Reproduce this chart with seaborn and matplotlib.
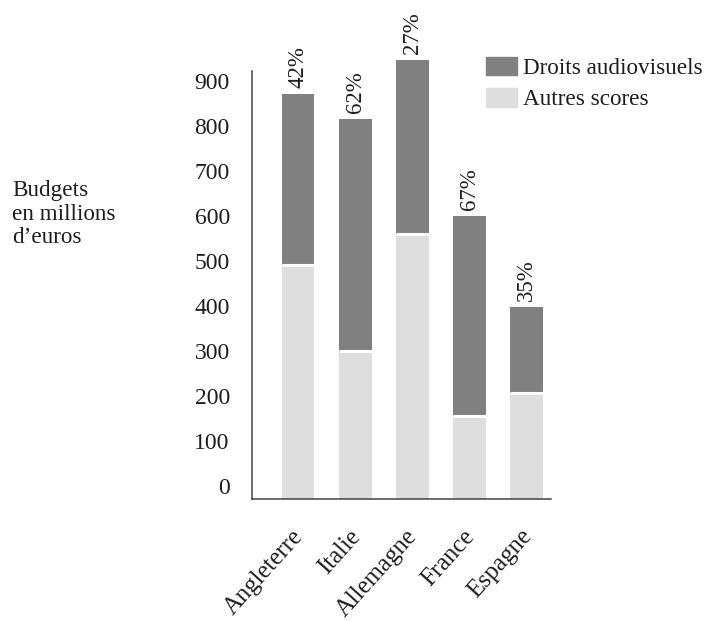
import seaborn as sns
import matplotlib.pyplot as plt
import pandas as pd
from matplotlib.patches import Patch
from matplotlib.transforms import ScaledTranslation

# données (millions d'euros)
pays = ["Angleterre", "Italie", "Allemagne", "France", "Espagne"]
autres = [490, 300, 560, 155, 207]
droits = [380, 515, 385, 445, 190]
parts = ["42%", "62%", "27%", "67%", "35%"]
yticks = [0, 100, 200, 300, 400, 500, 600, 700, 800, 900]

df = pd.DataFrame({"pays": pays, "autres": autres, "droits": droits})
df["total"] = df["autres"] + df["droits"]

sns.set_theme(style="white")
plt.rcParams['font.family'] = ['Liberation Serif', 'DejaVu Serif']

dark = '#808080'
light = '#dedede'
txt = '#1e1e1e'
fs = 16.7
ymin = -28

fig = plt.figure(figsize=(7.1, 6.21), dpi=100)
ax = fig.add_axes([252/710, 1-499/621, 299/710, 459/621])

sns.barplot(data=df, x="pays", y="total", color=dark, width=0.57,
            saturation=1, linewidth=0, ax=ax)
sns.barplot(data=df, x="pays", y="autres", color=light, width=0.57,
            saturation=1, linewidth=0, ax=ax)

# bars go down to the axis line, which sits a bit under the "0" label
for p in ax.patches:
    h = p.get_height()
    p.set_y(ymin)
    p.set_height(h - ymin)

# thin white gap between the two parts
for p in ax.containers[1]:
    top = p.get_y() + p.get_height()
    ax.hlines(top, p.get_x(), p.get_x() + p.get_width(), color='white', lw=2.2)

for p, t in zip(ax.containers[0], parts):
    ax.annotate(t, (p.get_x() + p.get_width()/2, p.get_y() + p.get_height()),
                xytext=(0, 4.5), textcoords='offset points', rotation=90,
                ha='center', va='bottom', fontsize=16.5, color=txt,
                annotation_clip=False)

ax.set_ylim(ymin, 990)
ax.set_xlim(-0.807, 4.425)
ax.set_xlabel('')
ax.set_ylabel('')
for s in ['top', 'right']:
    ax.spines[s].set_visible(False)
for s in ['left', 'bottom']:
    ax.spines[s].set_color('#444444')
    ax.spines[s].set_linewidth(1.1)
ax.spines['left'].set_bounds(ymin, 922)

ax.set_yticks(yticks)
ax.set_yticklabels([str(v) for v in yticks], fontsize=17, color=txt)
ax.tick_params(axis='y', length=0, pad=16)
ax.set_xticks(range(len(pays)))
ax.set_xticklabels(pays, rotation=48, ha='right', rotation_mode='anchor',
                   fontsize=17.8, color=txt)
ax.tick_params(axis='x', length=0, pad=19)
shift = ScaledTranslation(-7/100, 0, fig.dpi_scale_trans)
for lab in ax.get_xticklabels():
    lab.set_transform(lab.get_transform() + shift)

fig.text(12/710, 1-214/621, "Budgets\nen millions\nd\u2019euros", ha='left',
         va='center', fontsize=fs, color=txt, linespacing=1.16)

handles = [Patch(color=dark, label='Droits audiovisuels'),
           Patch(color=light, label='Autres scores')]
fig.legend(handles=handles, loc='upper left', bbox_to_anchor=(486/710, 1-57/621),
           frameon=False, borderpad=0, borderaxespad=0, handlelength=1.35,
           handleheight=0.85, handletextpad=0.25, labelspacing=0.38,
           fontsize=fs, labelcolor=txt)

fig.savefig('out.png', dpi=100)
